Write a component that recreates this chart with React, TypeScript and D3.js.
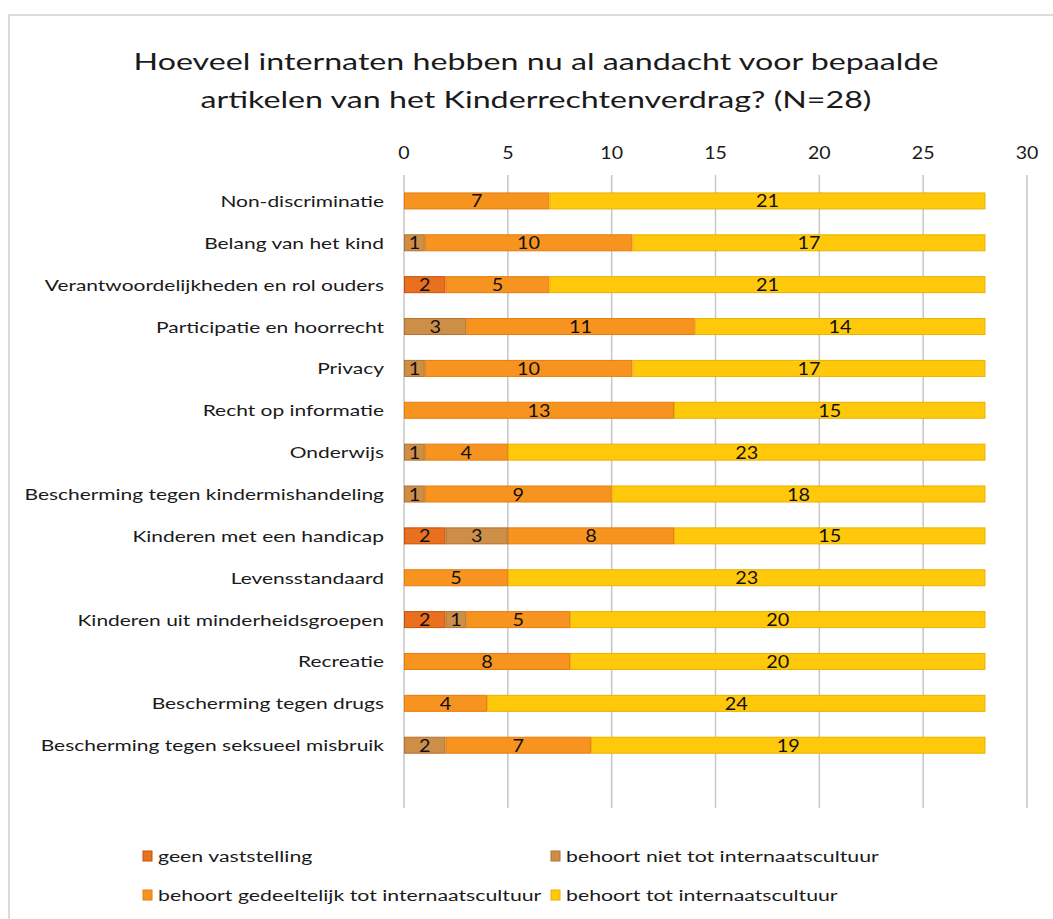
import React from "react";
import * as d3 from "d3";

const categories = [
  "Non-discriminatie",
  "Belang van het kind",
  "Verantwoordelijkheden en rol ouders",
  "Participatie en hoorrecht",
  "Privacy",
  "Recht op informatie",
  "Onderwijs",
  "Bescherming tegen kindermishandeling",
  "Kinderen met een handicap",
  "Levensstandaard",
  "Kinderen uit minderheidsgroepen",
  "Recreatie",
  "Bescherming tegen drugs",
  "Bescherming tegen seksueel misbruik",
];

const geenVaststelling = [0, 0, 2, 0, 0, 0, 0, 0, 2, 0, 2, 0, 0, 0];
const behoortNiet = [0, 1, 0, 3, 1, 0, 1, 1, 3, 0, 1, 0, 0, 2];
const behoortGedeeltelijk = [7, 10, 5, 11, 10, 13, 4, 9, 8, 5, 5, 8, 4, 7];
const behoortTot = [21, 17, 21, 14, 17, 15, 23, 18, 15, 23, 20, 20, 24, 19];

const seriesNames = [
  "geen vaststelling",
  "behoort niet tot internaatscultuur",
  "behoort gedeeltelijk tot internaatscultuur",
  "behoort tot internaatscultuur",
];
const xTicks = [0, 5, 10, 15, 20, 25, 30];

const fills = ["#E8701E", "#CD8E48", "#F7941F", "#FFC80A"];
const strokes = ["#C8500C", "#B27232", "#E57C10", "#E8B200"];

const titleLines = [
  "Hoeveel internaten hebben nu al aandacht voor bepaalde",
  "artikelen van het Kinderrechtenverdrag? (N=28)",
];

const FONT = "Lato, 'Open Sans', sans-serif";

type TProps = {
  x: number;
  y: number;
  sx: number;
  size: number;
  anchor?: "start" | "middle" | "end";
  fill?: string;
  children: React.ReactNode;
};

function SText({ x, y, sx, size, anchor = "start", fill = "#1a1a1a", children }: TProps) {
  return (
    <text
      transform={`translate(${x},${y}) scale(${sx},1)`}
      textAnchor={anchor}
      fontSize={size}
      fill={fill}
    >
      {children}
    </text>
  );
}

export default function App() {
  const seriesData = [geenVaststelling, behoortNiet, behoortGedeeltelijk, behoortTot];
  const x = d3.scaleLinear().domain([0, 30]).range([404, 1027]);
  const slots = d3.range(categories.length + 1);
  const y = d3
    .scaleBand<number>()
    .domain(slots)
    .range([180, 808])
    .paddingInner(0.594)
    .paddingOuter(0.297);

  const stack = categories.map((c, i) => {
    let acc = 0;
    return seriesData.map((s, k) => {
      const v = s[i];
      const seg = { k, v, x0: acc, x1: acc + v };
      acc += v;
      return seg;
    });
  });

  const legendItems = [
    { k: 0, x: 143, y: 856 },
    { k: 1, x: 551, y: 856 },
    { k: 2, x: 143, y: 895 },
    { k: 3, x: 551, y: 895 },
  ];

  return (
    <svg
      width={1053}
      height={919}
      style={{ position: "absolute", left: 0, top: 0, background: "#fff" }}
      fontFamily={FONT}
    >
      <rect x={0} y={0} width={1053} height={919} fill="#fff" />
      <rect x={9} y={15} width={1100} height={1000} fill="none" stroke="#d0d0d0" strokeWidth={1.5} />
      {titleLines.map((t, i) => (
        <SText key={i} x={536} y={70 + i * 38} sx={1.4} size={23} anchor="middle">
          {t}
        </SText>
      ))}
      {xTicks.map((t) => (
        <g key={t}>
          <line x1={x(t)} x2={x(t)} y1={175} y2={808} stroke="#c6c6c6" strokeWidth={1.5} />
          <SText x={x(t)} y={159} sx={1.15} size={17} anchor="middle">
            {t}
          </SText>
        </g>
      ))}
      {categories.map((c, i) => {
        const yy = y(i)!;
        const h = y.bandwidth();
        return (
          <g key={c}>
            <SText x={384} y={yy + h / 2 + 6} sx={1.31} size={16} anchor="end">
              {c}
            </SText>
            {stack[i]
              .filter((s) => s.v > 0)
              .map((s) => (
                <rect
                  key={s.k}
                  x={x(s.x0) + 0.5}
                  y={yy + 0.5}
                  width={x(s.x1) - x(s.x0) - 1}
                  height={h - 1}
                  fill={fills[s.k]}
                  stroke={strokes[s.k]}
                  strokeWidth={1}
                />
              ))}
            {stack[i]
              .filter((s) => s.v > 0)
              .map((s) => (
                <SText
                  key={"l" + s.k}
                  x={(x(s.x0) + x(s.x1)) / 2}
                  y={yy + h / 2 + 6.5}
                  sx={1.1}
                  size={18}
                  anchor="middle"
                  fill="#111"
                >
                  {s.v}
                </SText>
              ))}
          </g>
        );
      })}
      {legendItems.map((l) => (
        <g key={l.k}>
          <rect
            x={l.x}
            y={l.y - 5}
            width={9}
            height={10}
            fill={fills[l.k]}
            stroke={strokes[l.k]}
            strokeWidth={1}
          />
          <SText x={l.x + 15} y={l.y + 6} sx={1.33} size={16}>
            {seriesNames[l.k]}
          </SText>
        </g>
      ))}
    </svg>
  );
}
